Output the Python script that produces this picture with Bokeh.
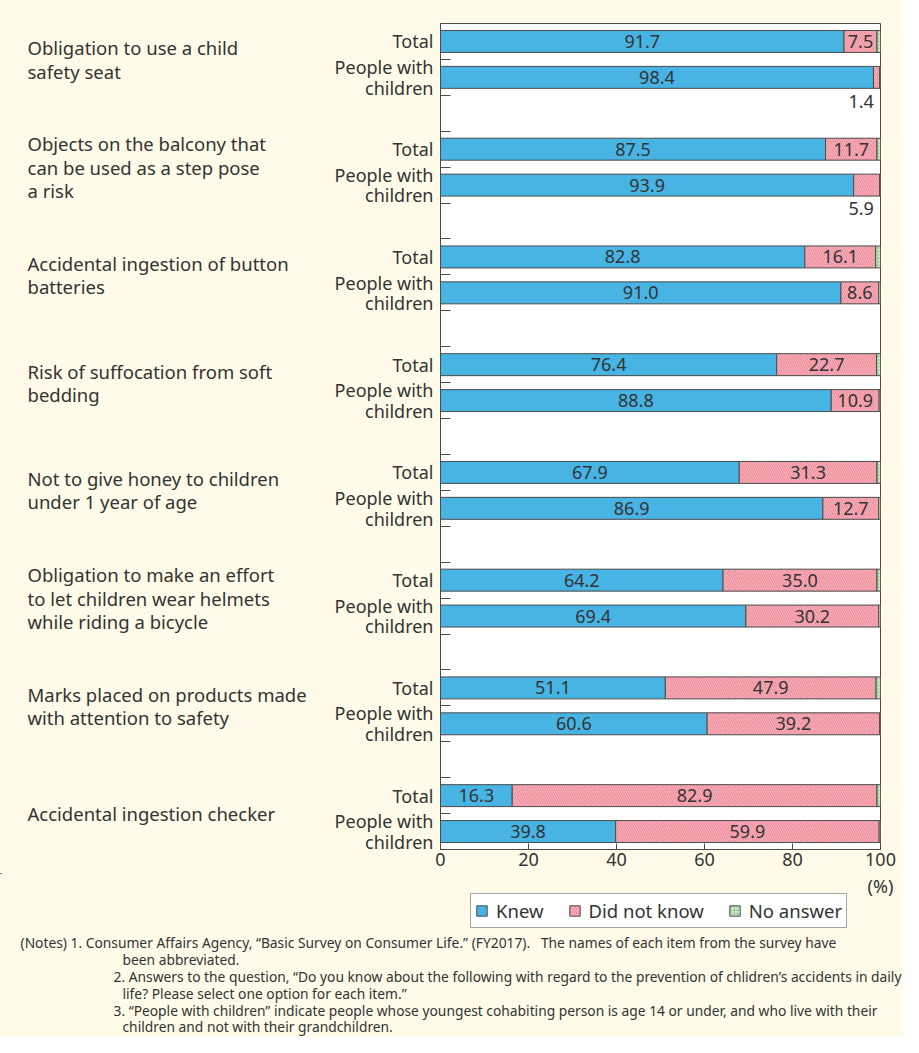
from bokeh.plotting import figure
from bokeh.layouts import column, row
from bokeh.models import (ColumnDataSource, Range1d, FixedTicker, Label, Legend, LegendItem)
from bokeh.core.properties import value
from bokeh.embed import file_html
from bokeh.resources import INLINE

items = [
    "Obligation to use a child\nsafety seat",
    "Objects on the balcony that\ncan be used as a step pose\na risk",
    "Accidental ingestion of button\nbatteries",
    "Risk of suffocation from soft\nbedding",
    "Not to give honey to children\nunder 1 year of age",
    "Obligation to make an effort\nto let children wear helmets\nwhile riding a bicycle",
    "Marks placed on products made\nwith attention to safety",
    "Accidental ingestion checker",
]
groups = ["Total", "People with\nchildren"]
knew_total = [91.7, 87.5, 82.8, 76.4, 67.9, 64.2, 51.1, 16.3]
didnot_total = [7.5, 11.7, 16.1, 22.7, 31.3, 35.0, 47.9, 82.9]
noans_total = [0.8, 0.8, 1.1, 0.9, 0.8, 0.8, 1.0, 0.8]
knew_kids = [98.4, 93.9, 91.0, 88.8, 86.9, 69.4, 60.6, 39.8]
didnot_kids = [1.4, 5.9, 8.6, 10.9, 12.7, 30.2, 39.2, 59.9]
noans_kids = [0.2, 0.2, 0.4, 0.3, 0.4, 0.4, 0.2, 0.3]
x_ticks = [0, 20, 40, 60, 80, 100]
series = ["Knew", "Did not know", "No answer"]
notes = [
    "(Notes) 1. Consumer Affairs Agency, \u201cBasic Survey on Consumer Life.\u201d (FY2017).\u00a0\u00a0\u00a0The names of each item from the survey have",
    "been abbreviated.",
    "2. Answers to the question, \u201cDo you know about the following with regard to the prevention of chlidren\u2019s accidents in daily",
    "life? Please select one option for each item.\u201d",
    "3. \u201cPeople with children\u201d indicate people whose youngest cohabiting person is age 14 or under, and who live with their",
    "children and not with their grandchildren.",
]

FONT = "Noto Sans"
NFONT = "Noto Sans"
TXT = "#333333"
BG = "#fffbe8"
EDGE = "#4a4a4a"
KNEW = dict(fill_color="#48b4e4")
DIDNOT = dict(fill_color="#fbd0d6", hatch_pattern="\\", hatch_color="#ee8494",
              hatch_scale=4.5, hatch_weight=1.3)
NOANS = dict(fill_color="#d6efd2", hatch_pattern="+", hatch_color="#86c884",
             hatch_scale=3.5, hatch_weight=0.9)

# rows: Total in slot 3i, People in slot 3i+1
ys, k, d, n = [], [], [], []
for i in range(len(items)):
    ys += [3 * i + 0.5, 3 * i + 1.5]
    k += [knew_total[i], knew_kids[i]]
    d += [didnot_total[i], didnot_kids[i]]
    n += [noans_total[i], noans_kids[i]]
d_end = [a + b for a, b in zip(k, d)]
n_end = [a + b for a, b in zip(d_end, n)]
src = ColumnDataSource(dict(y=ys, k0=[0] * len(ys), k1=k, d1=d_end, n1=n_end))

nslots = 3 * len(items) - 1
yr = Range1d(nslots, 0)
TOP, BOT = 23, 24
MH = 23 + 826 + BOT
LW = 322

# ---------------- main chart ----------------
p = figure(width=903 - LW, height=MH, x_range=Range1d(0, 100), y_range=yr,
           output_backend="svg", toolbar_location=None,
           min_border_left=440 - LW, min_border_right=23, min_border_top=TOP, min_border_bottom=BOT)
p.background_fill_color = "white"
p.border_fill_color = BG
p.outline_line_color = EDGE
p.outline_line_width = 1
p.grid.visible = False

H = 22 / 36
r_k = p.hbar(y="y", left="k0", right="k1", height=H, source=src, line_color=EDGE, line_width=1, **KNEW)
r_d = p.hbar(y="y", left="k1", right="d1", height=H, source=src, line_color=EDGE, line_width=1, **DIDNOT)
r_n = p.hbar(y="y", left="d1", right="n1", height=H, source=src, line_color=EDGE, line_width=1, **NOANS)

lx, ly, lt, la = [], [], [], []
for y, kv, dv in zip(ys, k, d):
    lx.append(kv / 2); ly.append(y); lt.append(f"{kv:.1f}"); la.append("center")
    if dv >= 7:
        lx.append(kv + dv / 2); ly.append(y); lt.append(f"{dv:.1f}"); la.append("center")
    else:
        lx.append(98.5); ly.append(y + 0.66); lt.append(f"{dv:.1f}"); la.append("right")
lsrc = ColumnDataSource(dict(x=lx, y=ly, t=lt, a=la))
p.text(x="x", y="y", text="t", text_align="a", text_baseline="middle", source=lsrc,
       text_font=value(FONT), text_font_size="18px", text_color=TXT)

p.xaxis.ticker = FixedTicker(ticks=x_ticks)
p.xaxis.major_tick_in = 6
p.xaxis.major_tick_out = 0
p.xaxis.minor_tick_line_color = None
p.xaxis.axis_line_color = EDGE
p.xaxis.major_tick_line_color = EDGE
p.xaxis.major_label_text_font = FONT
p.xaxis.major_label_text_font_size = "18px"
p.xaxis.major_label_text_color = TXT
p.xaxis.major_label_standoff = 3

bounds = list(range(1, nslots))
p.yaxis.ticker = FixedTicker(ticks=ys, minor_ticks=bounds)
p.yaxis.major_label_overrides = {y: groups[j % 2] for j, y in enumerate(ys)}
p.yaxis.major_tick_line_color = None
p.yaxis.major_tick_in = 0
p.yaxis.major_tick_out = 0
p.yaxis.minor_tick_in = 10
p.yaxis.minor_tick_out = 0
p.yaxis.minor_tick_line_color = EDGE
p.yaxis.axis_line_color = EDGE
p.yaxis.major_label_text_font = FONT
p.yaxis.major_label_text_font_size = "18px"
p.yaxis.major_label_text_color = TXT
p.yaxis.major_label_text_align = "right"
p.yaxis.major_label_text_line_height = 0.86
p.yaxis.major_label_standoff = 7

# ---------------- left label panel ----------------
lp = figure(width=LW, height=MH, x_range=Range1d(0, LW), y_range=yr,
            output_backend="svg", toolbar_location=None,
            x_axis_location=None, y_axis_location=None,
            min_border_left=0, min_border_right=0, min_border_top=TOP, min_border_bottom=BOT)
lp.background_fill_color = BG
lp.border_fill_color = BG
lp.outline_line_color = None
lp.grid.visible = False
csrc = ColumnDataSource(dict(x=[27] * len(items), y=[3 * i + 1 for i in range(len(items))], t=items))
lp.text(x="x", y="y", text="t", source=csrc, text_align="left", text_baseline="middle",
        text_font=value(FONT), text_font_size="18.5px", text_color=TXT, text_line_height=0.93)

# ---------------- bottom panel: unit, legend, notes ----------------
BH = 1037 - MH
bp = figure(width=903, height=BH, x_range=Range1d(0, 903), y_range=Range1d(BH, 0),
            output_backend="svg", toolbar_location=None,
            x_axis_location=None, y_axis_location=None,
            min_border_left=0, min_border_right=0, min_border_top=0, min_border_bottom=0)
bp.background_fill_color = BG
bp.border_fill_color = BG
bp.outline_line_color = None
bp.grid.visible = False

bp.add_layout(Label(x=880, y=0, text="(%)", text_align="center", text_baseline="top",
                    text_font=FONT, text_font_size="18px", text_color=TXT))

# legend swatches: renderers whose single point lies outside the visible range
e = ColumnDataSource(dict(y=[-1000], l=[0], r=[1]))
g_k = bp.hbar(y="y", left="l", right="r", height=1, source=e, line_color=EDGE, **KNEW)
g_d = bp.hbar(y="y", left="l", right="r", height=1, source=e, line_color=EDGE, **DIDNOT)
g_n = bp.hbar(y="y", left="l", right="r", height=1, source=e, line_color=EDGE, **NOANS)
legend = Legend(items=[LegendItem(label=series[0], renderers=[g_k]),
                       LegendItem(label=series[1], renderers=[g_d]),
                       LegendItem(label=series[2], renderers=[g_n])],
                orientation="horizontal", location=(470, BH - (928 - MH)),
                label_text_font=FONT, label_text_font_size="18.5px", label_text_color=TXT,
                label_height=16, glyph_width=13, glyph_height=13, label_standoff=8, spacing=24,
                padding=4, margin=0, border_line_color=EDGE, border_line_width=1,
                background_fill_color="white", background_fill_alpha=1)
bp.add_layout(legend, "center")

note_x = [20, 122, 113, 122, 113, 122]
note_y = [942, 959, 976, 993, 1010, 1026]
for xx, yy, t in zip(note_x, note_y, notes):
    bp.add_layout(Label(x=xx, y=yy - MH, text=t, text_align="left", text_baseline="middle",
                        text_font=NFONT, text_font_size="13.8px", text_color=TXT))

top_row = row(lp, p, spacing=0, styles={"background-color": BG})
layout = column(top_row, bp, spacing=0, styles={"background-color": BG})
open("out.html", "w").write(file_html(layout, INLINE))
